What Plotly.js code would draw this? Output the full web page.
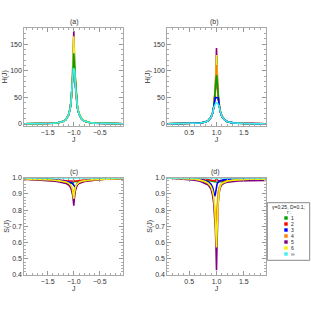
<!DOCTYPE html>
<html><head><meta charset="utf-8">
<script src="https://cdn.plot.ly/plotly-3.0.1.min.js"></script>
<style>html,body{margin:0;padding:0;background:#fff}#c{width:311px;height:311px}</style>
</head><body><div id="c"></div>
<script>
// ---- data ----
const rLabels = ['1','2','3','4','5','6','\u221e'];
const seriesColors = ['#00a000','#ff0000','#0000ff','#ff8000','#800080','#f2f200','#40f0f0'];

const J_neg = [-1.95,-1.6,-1.4,-1.3,-1.2,-1.15,-1.1,-1.07,-1.05,-1.03,-1.02,-1.01,-1.0,-0.99,-0.98,-0.97,-0.95,-0.93,-0.9,-0.85,-0.8,-0.7,-0.6,-0.4,-0.05];
const J_pos = [0.1,0.4,0.6,0.7,0.8,0.85,0.9,0.93,0.95,0.97,0.98,0.99,1.0,1.01,1.02,1.03,1.05,1.07,1.1,1.15,1.2,1.3,1.4,1.6,1.9];

// (a) H(J), J<0
const Ha_1 = [0.3,0.6,1.4,2.4,5,8.5,17,29,45,75,98,115,133,115,98,75,48,31,19,9.5,5.5,2.7,1.6,0.7,0.35];
const Ha_2 = [0.3,0.6,1.4,2.4,5,8.5,17,29,45,75,98,99,100,99,98,75,48,31,19,9.5,5.5,2.7,1.6,0.7,0.35];
const Ha_3 = [0.3,0.6,1.4,2.4,5,8.5,17,29,45,75,98,104,110,104,98,75,48,31,19,9.5,5.5,2.7,1.6,0.7,0.35];
const Ha_4 = [0.3,0.6,1.4,2.4,5,8.5,17,29,45,75,98,110,120,110,98,75,48,31,19,9.5,5.5,2.7,1.6,0.7,0.35];
const Ha_5 = [0.3,0.6,1.4,2.4,5,8.5,17,29,45,75,98,135,175,135,98,75,48,31,19,9.5,5.5,2.7,1.6,0.7,0.35];
const Ha_6 = [0.3,0.6,1.4,2.4,5,8.5,17,29,45,75,98,130,165,132,100,80,52,34,21,11,6.5,3.0,1.8,0.8,0.4];
const Ha_inf = [0.3,0.6,1.4,2.4,5,8.5,17,29,45,75,98,103,105,103,98,75,48,31,19,9.5,5.5,2.7,1.6,0.7,0.35];

// (b) H(J), J>0
const Hb_1 = [0.25,0.5,1.1,1.8,3.8,6.5,12.5,21,32,53,70,82,92,82,70,53,35,23,14,7.5,4.4,2.1,1.3,0.6,0.3];
const Hb_2 = [0.25,0.5,1.1,1.8,3.8,6.5,12.5,21,32,53,70,75,80,75,70,53,35,23,14,7.5,4.4,2.1,1.3,0.6,0.3];
const Hb_3 = [0.25,0.5,1.1,1.8,3.8,6.5,12.5,21,32,49,50,50,50,50,50,49,35,23,14,7.5,4.4,2.1,1.3,0.6,0.3];
const Hb_4 = [0.25,0.5,1.1,1.8,3.8,6.5,12.5,21,32,53,70,92,111,92,70,53,35,23,14,7.5,4.4,2.1,1.3,0.6,0.3];
const Hb_5 = [0.25,0.5,1.1,1.8,3.8,6.5,12.5,21,32,53,70,105,143,105,70,53,35,23,14,7.5,4.4,2.1,1.3,0.6,0.3];
const Hb_6 = [0.25,0.5,1.1,1.8,3.8,6.5,12.5,21,32,53,70,100,130,102,72,56,38,25,15.5,8.2,4.8,2.3,1.4,0.65,0.32];
const Hb_inf = [0.25,0.5,1.1,1.8,3.8,6.5,12.5,21,31,37,39,40,40,40,39,37,34,23,14,7.5,4.4,2.1,1.3,0.6,0.3];

// (c) S(J), J<0
const Sc_1 = [0.998,0.995,0.99,0.982,0.975,0.971,0.968,0.966,0.965,0.964,0.963,0.97,0.985,0.978,0.975,0.975,0.975,0.976,0.978,0.981,0.983,0.987,0.99,0.994,0.998];
const Sc_2 = [0.995,0.991,0.988,0.985,0.982,0.981,0.98,0.979,0.978,0.977,0.976,0.975,0.975,0.976,0.977,0.978,0.98,0.981,0.983,0.985,0.986,0.988,0.99,0.993,0.996];
const Sc_3 = [0.996,0.992,0.99,0.985,0.98,0.978,0.975,0.972,0.97,0.966,0.963,0.96,0.957,0.95,0.945,0.94,0.955,0.965,0.972,0.977,0.98,0.985,0.988,0.992,0.996];
const Sc_4 = [0.99,0.986,0.982,0.978,0.973,0.968,0.962,0.954,0.945,0.93,0.92,0.91,0.90,0.915,0.93,0.94,0.955,0.962,0.968,0.973,0.977,0.982,0.985,0.99,0.994];
const Sc_5 = [0.99,0.985,0.98,0.975,0.97,0.965,0.955,0.945,0.93,0.91,0.89,0.86,0.827,0.87,0.90,0.92,0.94,0.955,0.965,0.972,0.977,0.982,0.985,0.99,0.995];
const Sc_6 = [0.993,0.99,0.986,0.982,0.978,0.974,0.967,0.96,0.95,0.935,0.92,0.90,0.87,0.905,0.925,0.94,0.955,0.965,0.972,0.978,0.982,0.986,0.988,0.992,0.996];
const Sc_inf = [0.999,0.999,0.999,0.999,0.999,0.999,0.999,0.999,0.999,0.999,0.999,0.999,0.999,0.999,0.999,0.999,0.999,0.999,0.999,0.999,0.999,0.999,0.999,0.999,0.999];

// (d) S(J), J>0
const Sd_1 = [1.0,0.998,0.994,0.99,0.984,0.98,0.976,0.974,0.973,0.972,0.972,0.972,0.972,0.972,0.972,0.973,0.974,0.975,0.977,0.98,0.982,0.986,0.988,0.991,0.993];
const Sd_2 = [1.0,0.998,0.996,0.993,0.99,0.986,0.982,0.979,0.978,0.98,0.984,0.988,0.99,0.988,0.984,0.98,0.978,0.979,0.982,0.986,0.99,0.994,0.996,0.998,0.999];
const Sd_3 = [0.999,0.996,0.992,0.988,0.982,0.975,0.96,0.94,0.91,0.885,0.9,0.93,0.95,0.96,0.967,0.972,0.978,0.982,0.985,0.988,0.99,0.991,0.992,0.993,0.993];
const Sd_4 = [0.999,0.995,0.99,0.984,0.973,0.962,0.94,0.91,0.87,0.8,0.75,0.70,0.76,0.83,0.88,0.91,0.94,0.955,0.965,0.974,0.979,0.983,0.985,0.987,0.988];
const Sd_5 = [0.998,0.993,0.985,0.978,0.965,0.955,0.93,0.89,0.84,0.75,0.68,0.58,0.43,0.6,0.75,0.84,0.91,0.94,0.957,0.968,0.973,0.977,0.98,0.982,0.983];
const Sd_6 = [0.999,0.995,0.99,0.985,0.975,0.965,0.945,0.915,0.88,0.80,0.74,0.66,0.57,0.68,0.78,0.85,0.92,0.95,0.965,0.975,0.98,0.985,0.988,0.99,0.991];
const Sd_inf = [0.999,0.999,0.999,0.999,0.999,0.999,0.999,0.999,0.999,0.999,0.999,0.999,0.999,0.999,0.999,0.999,0.999,0.999,0.999,0.999,0.999,0.999,0.999,0.999,0.999];

const xTicksNeg = [-1.5,-1.0,-0.5];
const xTicksPos = [0.5,1.0,1.5];
const yTicksH = [0,50,100,150];
const yTicksS = [0.4,0.5,0.6,0.7,0.8,0.9,1.0];
const panelLabels = ['(a)','(b)','(c)','(d)'];
const legendTitle = '\u03b3=0.25, D=0.1;';
const legendSub = 'r :';

// ---- build ----
const W = 311, H = 311;
const px = v => v / W;
const py = v => 1 - v / H;

const panels = [
  {x: J_neg, ys: [Ha_1,Ha_2,Ha_3,Ha_4,Ha_5,Ha_6,Ha_inf], order: [1,2,3,4,5,0,6], ax: ''},
  {x: J_pos, ys: [Hb_1,Hb_2,Hb_3,Hb_4,Hb_5,Hb_6,Hb_inf], order: [1,4,5,3,0,2,6], ax: '2'},
  {x: J_neg, ys: [Sc_1,Sc_2,Sc_3,Sc_4,Sc_5,Sc_6,Sc_inf], order: [0,1,2,3,4,5,6], ax: '3'},
  {x: J_pos, ys: [Sd_1,Sd_2,Sd_3,Sd_4,Sd_5,Sd_6,Sd_inf], order: [0,1,2,3,4,5,6], ax: '4'}
];
const traces = [];
panels.forEach(p => {
  p.order.forEach(i => {
    traces.push({x: p.x, y: p.ys[i], type: 'scatter', mode: 'lines',
      line: {color: seriesColors[i], width: 1.6}, showlegend: false,
      xaxis: 'x' + p.ax, yaxis: 'y' + p.ax, hoverinfo: 'skip'});
  });
});

const font = 'Liberation Sans, Arial, sans-serif';
const tf = {family: font, size: 7, color: '#333'};
const frame = {showline: true, linecolor: '#aaaaaa', linewidth: 1, mirror: 'ticks',
  ticks: 'inside', ticklen: 4, tickwidth: 1, tickcolor: '#999', showgrid: false, zeroline: false,
  tickfont: tf, fixedrange: true};

const xdomL = [px(24.3), px(123.3)], xdomR = [px(167.3), px(265.7)];
const ydomT = [py(125.7), py(27.7)], ydomB = [py(275), py(177.7)];

function xax(dom, range, ticks, anchor) {
  return Object.assign({}, frame, {domain: dom, range: range, anchor: anchor,
    tickvals: ticks, tickformat: '.1f', minor: {dtick: 0.1, tick0: 0, ticks: 'inside', ticklen: 2, tickcolor: '#aaa'},
    title: {text: 'J', font: tf, standoff: 1}});
}
function yax(dom, range, ticks, fmt, mdt, t, anchor) {
  return Object.assign({}, frame, {domain: dom, range: range, anchor: anchor,
    tickvals: ticks, tickformat: fmt, minor: {dtick: mdt, tick0: 0, ticks: 'inside', ticklen: 2, tickcolor: '#aaa'},
    title: {text: t, font: tf, standoff: 1}});
}
const hRange = [-3.2, 181.2], sRange = [0.4, 1.0];

const annotations = [];
const labPos = [[74, 22.3], [214, 22.3], [74, 171.7], [215, 171.7]];
panelLabels.forEach((t, k) => annotations.push({text: t, xref: 'paper', yref: 'paper',
  x: px(labPos[k][0]), y: py(labPos[k][1]), showarrow: false, xanchor: 'center', yanchor: 'middle',
  font: {family: font, size: 7, color: '#333'}}));

// legend (manual, Mathematica-style)
const shapes = [{type: 'rect', xref: 'paper', yref: 'paper', x0: px(267.3), x1: px(309.7), y0: py(260.3), y1: py(202.7),
  line: {color: '#888', width: 1}, fillcolor: 'rgba(0,0,0,0)'}];
const lf = {family: font, size: 5, color: '#222'};
annotations.push({text: legendTitle, xref: 'paper', yref: 'paper', x: px(288.5), y: py(207.3), showarrow: false,
  xanchor: 'center', yanchor: 'middle', font: lf});
annotations.push({text: legendSub, xref: 'paper', yref: 'paper', x: px(284.5), y: py(212), showarrow: false,
  xanchor: 'left', yanchor: 'middle', font: lf});
rLabels.forEach((r, i) => {
  const cy = 218 + 6 * i;
  shapes.push({type: 'rect', xref: 'paper', yref: 'paper', x0: px(284.3), x1: px(287.7), y0: py(cy + 1.7), y1: py(cy - 1.7),
    line: {width: 0}, fillcolor: seriesColors[i]});
  annotations.push({text: r, xref: 'paper', yref: 'paper', x: px(289.3), y: py(cy), showarrow: false,
    xanchor: 'left', yanchor: 'middle', font: lf});
});

const layout = {
  width: W, height: H, margin: {l: 0, r: 0, t: 0, b: 0}, paper_bgcolor: '#fff', plot_bgcolor: '#fff',
  showlegend: false, font: {family: font},
  xaxis: xax(xdomL, [-1.95, -0.05], xTicksNeg, 'y'),
  yaxis: yax(ydomT, hRange, yTicksH, 'd', 10, 'H(J)', 'x'),
  xaxis2: xax(xdomR, [0.1, 1.9], xTicksPos, 'y2'),
  yaxis2: yax(ydomT, hRange, yTicksH, 'd', 10, 'H(J)', 'x2'),
  xaxis3: xax(xdomL, [-1.95, -0.05], xTicksNeg, 'y3'),
  yaxis3: yax(ydomB, sRange, yTicksS, '.1f', 0.02, 'S(J)', 'x3'),
  xaxis4: xax(xdomR, [0.1, 1.9], xTicksPos, 'y4'),
  yaxis4: yax(ydomB, sRange, yTicksS, '.1f', 0.02, 'S(J)', 'x4'),
  annotations: annotations, shapes: shapes
};
Plotly.newPlot('c', traces, layout, {staticPlot: true, displayModeBar: false});
</script></body></html>
